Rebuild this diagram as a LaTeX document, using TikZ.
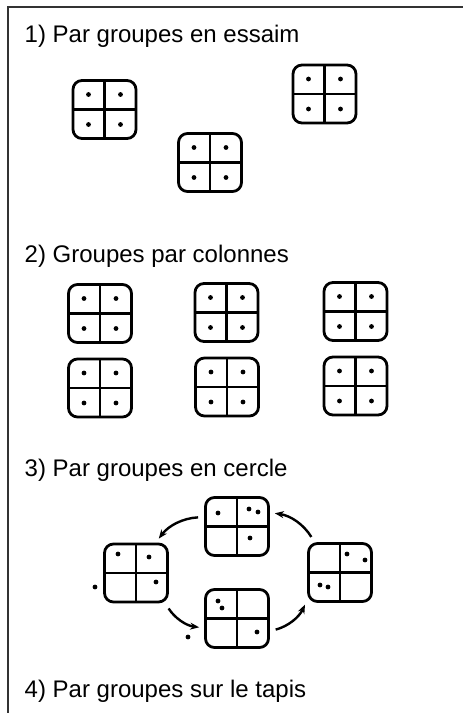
\documentclass[tikz,border=0pt]{standalone}
\usepackage{fontspec}
\setmainfont{Liberation Sans}
\usetikzlibrary{arrows.meta,calc}

% cross inside a tile, and one dot in each quarter
\newcommand\tilecross{%
    \draw[line width=2.4pt] (path picture bounding box.north) -- (path picture bounding box.south);
    \draw[line width=2.4pt] (path picture bounding box.west) -- (path picture bounding box.east);}
\newcommand\tiledots{%
    \fill ($(path picture bounding box.center)+(-16,-15)$) circle (2.4);
    \fill ($(path picture bounding box.center)+(16,-15)$) circle (2.4);
    \fill ($(path picture bounding box.center)+(-16,15)$) circle (2.4);
    \fill ($(path picture bounding box.center)+(16,15)$) circle (2.4);}

\begin{document}
\begin{tikzpicture}[x=1pt, y=-1pt,
    tile/.style={rectangle, draw=black, line width=2.8pt, rounded corners=9pt,
        minimum width=63pt, minimum height=58pt, inner sep=0pt,
        path picture={\tilecross}},
    fulltile/.style={tile, path picture={\tilecross\tiledots}},
    title/.style={anchor=base west, inner sep=0pt, font=\fontsize{24}{28}\selectfont},
    dot/.style={fill=black},
    move/.style={-{Stealth[length=9pt, width=7pt]}, line width=2.4pt,
        shorten <=6pt, shorten >=5pt, bend right=25}
]
\useasboundingbox (0,0) rectangle (463,713);

% Frame
\draw[line width=1.6pt, black!80] (463,7) -- (8,7) -- (8,713);

% 1) swarm
\node[title] (title1) at (24.5,42) {1) Par groupes en essaim};
\node[fulltile] (swarm1) at (104.5,109.5) {};
\node[fulltile] (swarm2) at (210,162.5) {};
\node[fulltile] (swarm3) at (324.5,94) {};

% 2) columns
\node[title] (title2) at (24.5,262) {2) Groupes par colonnes};
\node[fulltile] (col1) at (100,313.5) {};
\node[fulltile] (col2) at (226.5,312.5) {};
\node[fulltile] (col3) at (355.5,311.5) {};
\node[fulltile] (col4) at (100,388) {};
\node[fulltile] (col5) at (227,387) {};
\node[fulltile] (col6) at (355.5,386) {};

% 3) circle
\node[title] (title3) at (24.5,476) {3) Par groupes en cercle};
\node[tile] (top) at (237,526.5) {};
\node[tile] (left) at (136,573) {};
\node[tile] (bottom) at (237,618.5) {};
\node[tile] (right) at (340,572.5) {};

\fill[dot] (218,513) circle (2.4) (249,509) circle (2.4) (258,512) circle (2.4) (250,538) circle (2.4);
\fill[dot] (118,554) circle (2.4) (149,557) circle (2.4) (156,582) circle (2.4);
\fill[dot] (95,587) circle (2.4);
\fill[dot] (218,601) circle (2.4) (222,608) circle (2.4) (257,632) circle (2.4);
\fill[dot] (188,637) circle (2.4);
\fill[dot] (347,554) circle (2.4) (365,560) circle (2.4) (320,585) circle (2.4) (328,587) circle (2.4);

\draw[move] (top.164) to (left.57);
\draw[move] (left.-46) to (bottom.196);
\draw[move] (bottom.-21) to (right.220);
\draw[move] (right.130) to (top.23);

% 4) carpet
\node[title] (title4) at (24.5,697) {4) Par groupes sur le tapis};

\end{tikzpicture}
\end{document}
